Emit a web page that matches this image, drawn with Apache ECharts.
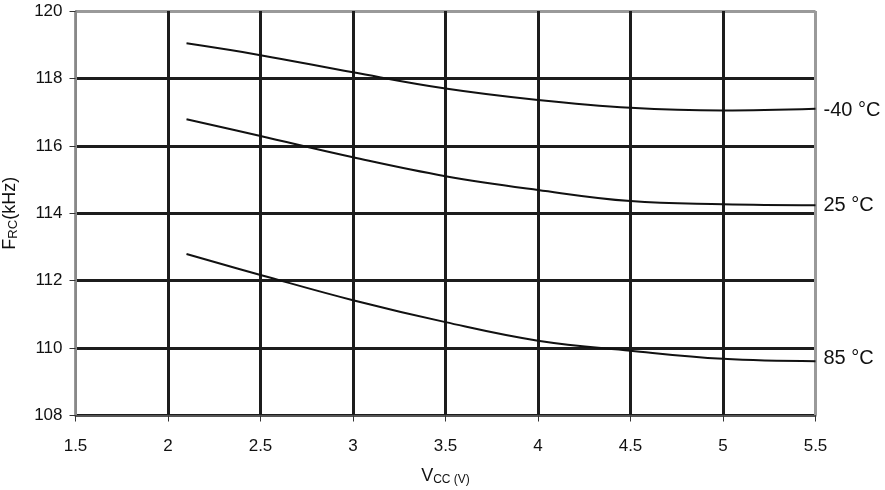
<!DOCTYPE html>
<html>
<head>
<meta charset="utf-8">
<script src="https://cdn.jsdelivr.net/npm/echarts@6/dist/echarts.min.js"></script>
<style>
  html, body { margin: 0; padding: 0; background: #fff; }
  #chart { width: 885px; height: 490px; }
</style>
</head>
<body>
<div id="chart"></div>
<script>
// supply voltage (V)
var vcc = [2.1, 2.5, 3, 3.5, 4, 4.5, 5, 5.5];
// RC oscillator frequency (kHz) per temperature
var fMinus40 = [119.04, 118.69, 118.18, 117.7, 117.36, 117.13, 117.05, 117.1];
var f25 = [116.79, 116.29, 115.66, 115.1, 114.69, 114.36, 114.27, 114.24];
var f85 = [112.79, 112.17, 111.42, 110.77, 110.22, 109.92, 109.68, 109.61];
var seriesNames = ['-40 °C', '25 °C', '85 °C'];

function pairs(ys) {
  return vcc.map(function (v, i) { return [v, ys[i]]; });
}

var font = 'Liberation Sans, Arial, sans-serif';
var gridDark = '#1c1c1c';
var border = '#9a9a9a';

var chart = echarts.init(document.getElementById('chart'));

function makeSeries(name, ys, dy) {
  return {
    name: name,
    type: 'line',
    data: pairs(ys),
    smooth: 0.4,
    showSymbol: false,
    lineStyle: { color: '#111', width: 2 },
    endLabel: {
      show: true,
      formatter: '{a}',
      distance: 8,
      offset: [0, dy],
      color: '#111',
      fontSize: 20,
      fontFamily: font
    },
    z: 5
  };
}

chart.setOption({
  animation: false,
  grid: { left: 75.5, right: 69.5, top: 11, bottom: 74.5, outerBoundsMode: 'none', containLabel: false },
  xAxis: {
    type: 'value',
    min: 1.5,
    max: 5.5,
    interval: 0.5,
    name: '{a|V}{b|CC (V)}',
    nameLocation: 'middle',
    nameGap: 52,
    nameTextStyle: {
      rich: {
        a: { fontSize: 18, color: '#111', fontFamily: font, verticalAlign: 'bottom' },
        b: { fontSize: 12, color: '#111', fontFamily: font, verticalAlign: 'bottom' }
      }
    },
    axisLine: { lineStyle: { color: '#555', width: 2 } },
    axisTick: { show: true, length: 6, lineStyle: { color: '#333', width: 1 } },
    axisLabel: { margin: 22, fontSize: 17, color: '#111', fontFamily: font },
    splitLine: {
      show: true,
      lineStyle: {
        color: [border, gridDark, gridDark, gridDark, gridDark, gridDark, gridDark, gridDark, border],
        width: 3
      }
    }
  },
  yAxis: {
    type: 'value',
    min: 108,
    max: 120,
    interval: 2,
    name: '{a|F}{b|RC}{a|(kHz)}',
    nameLocation: 'middle',
    nameRotate: 90,
    nameGap: 56,
    nameTextStyle: {
      rich: {
        a: { fontSize: 18, color: '#111', fontFamily: font, verticalAlign: 'bottom' },
        b: { fontSize: 13, color: '#111', fontFamily: font, verticalAlign: 'bottom' }
      }
    },
    axisLine: { show: true, lineStyle: { color: '#888', width: 2 } },
    axisTick: { show: true, length: 6, lineStyle: { color: '#333', width: 1 } },
    axisLabel: { margin: 13, fontSize: 17, color: '#111', fontFamily: font },
    splitLine: {
      show: true,
      lineStyle: {
        color: [gridDark, gridDark, gridDark, gridDark, gridDark, gridDark, border],
        width: 3
      }
    }
  },
  series: [
    makeSeries(seriesNames[0], fMinus40, 2),
    makeSeries(seriesNames[1], f25, 0),
    makeSeries(seriesNames[2], f85, -3)
  ]
});
</script>
</body>
</html>
